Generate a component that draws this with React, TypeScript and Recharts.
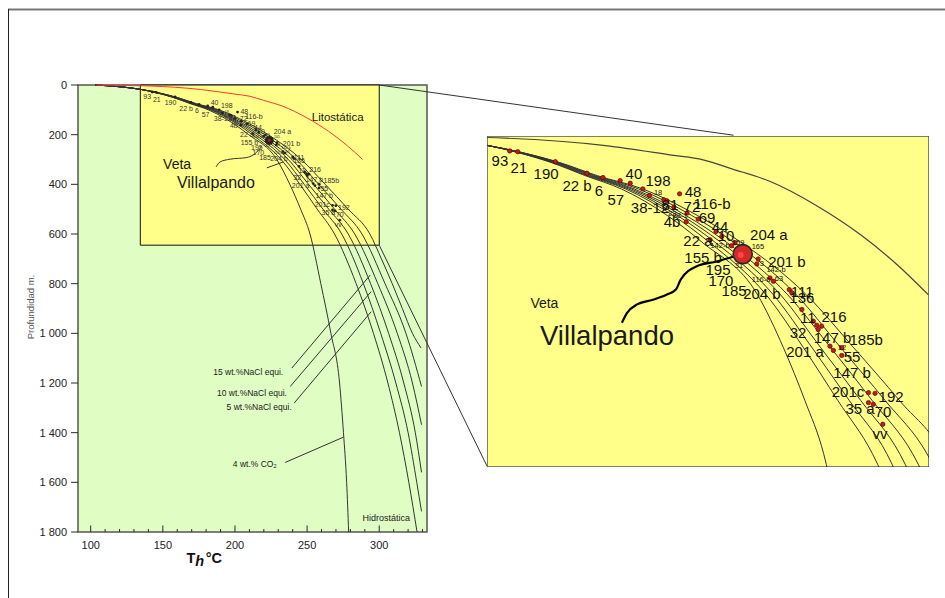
import { ComposedChart, Line, Scatter, XAxis, YAxis, ReferenceArea, ReferenceLine } from 'recharts'

const FONT = '"Liberation Sans", Arial, Helvetica, sans-serif'
const GREEN = '#e0fdc3'
const YELLOW = '#ffff8a'
const INK = '#2b2b2b'
const RED = '#ff3535'

// Curvas de ebullición: [profundidad m, T °C]
const BUNDLE_TOP = [[0, 103], [8, 122], [18, 135]]
const CO2_4 = [...BUNDLE_TOP, [30, 144.5], [50, 157], [75, 169], [100, 181.5], [150, 197.5], [200, 209.5], [300, 229], [400, 238], [500, 245.5], [600, 252], [800, 259.5], [1000, 266.5], [1200, 272.5], [1400, 275.2], [1600, 277.4], [1800, 278.8]]
const HIDRO = [...BUNDLE_TOP, [30, 144.8], [50, 157.5], [75, 169.7], [100, 183], [150, 199.5], [200, 212], [300, 232], [400, 245], [500, 257], [600, 269], [800, 284], [1000, 296], [1200, 306], [1400, 314], [1600, 320.5], [1800, 326.2]]
const NACL_5 = [...BUNDLE_TOP, [30, 145], [50, 158], [75, 170.4], [100, 184], [150, 201], [200, 214], [300, 234.5], [400, 248], [500, 261], [600, 274], [800, 289], [1000, 301], [1200, 311.5], [1400, 320], [1600, 326], [1717, 329.3]]
const NACL_10 = [...BUNDLE_TOP, [30, 145.3], [50, 158.5], [75, 171.1], [100, 185], [150, 202.5], [200, 216], [300, 237], [400, 251], [500, 265], [600, 278.5], [800, 294], [1000, 306.5], [1200, 317], [1400, 325], [1560, 329.3]]
const NACL_15 = [...BUNDLE_TOP, [30, 145.5], [50, 159], [75, 171.8], [100, 186], [150, 204], [200, 218], [300, 239.5], [400, 254.5], [500, 269], [600, 283], [800, 299], [1000, 312.5], [1200, 323], [1368, 329.3]]
const NACL_20 = [...BUNDLE_TOP, [30, 145.8], [50, 159.5], [75, 172.5], [100, 187.5], [150, 206], [200, 220.5], [300, 242.5], [400, 258], [500, 273.5], [600, 288], [800, 304], [1000, 318.5], [1214, 329.3]]
const NACL_25 = [...BUNDLE_TOP, [30, 146], [50, 160], [75, 173.2], [100, 189], [150, 208], [200, 223], [300, 246], [400, 262.5], [500, 278.5], [600, 293.5], [700, 301.5], [800, 309], [900, 316], [1000, 323], [1059, 329]]
const LITOSTATICA = [[0, 104], [4, 141], [18, 176], [36, 199], [45, 210], [62, 220], [85, 233], [133, 250], [187, 265], [245, 278], [300, 288.5]]

// Muestras (T, profundidad)
const SAMPLES = [
  [142.6, 28.2], [145.4, 29.6], [158.5, 48.4], [169.5, 70.2], [175.1, 78.5], [181.1, 84.2], [184.6, 89.1],
  [189, 99.8], [191.3, 112.4], [196.3, 120.5], [197.4, 122.4], [199.8, 134.3], [204.1, 162], [201.8, 109.2],
  [204.4, 145.6], [208.3, 156.9], [214.5, 180.2], [216.5, 189.6], [212.4, 195.9], [219.9, 207.2], [221.1, 201.5],
  [229.2, 232.2], [228.7, 241.6], [233.3, 268], [234.5, 274.4], [240, 290], [240.9, 296.2], [244.4, 327.7],
  [248.4, 349.7], [249.6, 357.3], [251.3, 359.1], [250.1, 365.3], [254.2, 396.8], [255.4, 404.9], [258.3, 399.8],
  [258.3, 414.3], [267.6, 484.6], [269.9, 485.9], [267.6, 503.4], [269.3, 506.6], [272.6, 544.3],
]
const MAIN_SAMPLE = [[223.8, 223]]

// Etiquetas de muestras: [texto, T, profundidad, secundaria]
const SAMPLE_TAGS: [string, number, number, boolean?][] = [
  ['93', 139.2, 47.1], ['21', 145.8, 60.3], ['190', 155.3, 71.6], ['22 b', 166.1, 94.2], ['6', 173.7, 103.6],
  ['57', 179.6, 120.5], ['40', 185.9, 71.6], ['198', 194.3, 84.7], ['18', 194.3, 107.3, true], ['38-12', 191.5, 135.6],
  ['81', 198.5, 130], ['22', 199.2, 146.9, true], ['4b', 199.2, 162], ['38-1', 202, 150.7, true], ['48', 206.5, 105.5],
  ['72', 206.1, 133.7], ['116-b', 213.1, 128], ['69', 211.4, 154.4], ['44', 215.9, 171.4], ['10', 218, 188.3],
  ['22 a', 208.2, 197.7], ['142-b', 215.9, 207.2, true], ['159', 222.2, 201.5, true], ['165', 229.1, 209, true],
  ['204 a', 232.9, 186.4], ['155 b', 210, 229.8], ['195', 215.2, 252.4], ['31', 222.5, 244.8, true], ['3', 230.5, 241, true],
  ['201 b', 239.2, 237.3], ['142-b', 235.4, 252.4, true], ['116-b', 230.2, 271.2, true], ['63', 236.4, 269.3, true],
  ['170', 216.2, 273.1], ['185', 220.8, 291.9], ['204 b', 230.5, 297.6], ['111', 244.5, 294], ['136', 244.4, 306],
  ['11', 246.5, 342.7], ['216', 255.6, 340.9], ['32', 243.1, 371], ['147 b', 255.1, 381], ['185b', 266.8, 384.2],
  ['12', 258.4, 399.2, true], ['201 a', 245.5, 406.8], ['55', 261.9, 416.2], ['147 b', 261.9, 446.3], ['201c', 260.5, 482],
  ['192', 275.5, 491.5], ['35 a', 264.7, 514.1], ['70', 272.7, 519.8], ['vv', 271.6, 563.1],
]

// Textos del gráfico principal: [texto, T, profundidad, tipo]
const MAIN_NOTES: [string, number, number, string][] = [
  ['Veta', 159.9, 319, 'veta'], ['Villalpando', 186.8, 391, 'villa'], ['Litostática', 271.2, 130, 'lito'],
  ['Hidrostática', 304.9, 1744, 'hidro'], ['15 wt.%NaCl equi.', 233.4, 1157, 'nacl'], ['10 wt.%NaCl equi.', 236, 1240, 'nacl'],
  ['5 wt.%NaCl equi.', 239.4, 1298, 'nacl'], ['4 wt.% CO', 228.8, 1525, 'co2'],
]
const INSET_NOTES: [string, number, number, string][] = [
  ['Veta', 154.7, 316.4, 'veta'], ['Villalpando', 176.5, 375.7, 'villa'],
]

const VETA_MAIN = [[186.9, 329.7], [189.7, 309.6], [196.6, 298.8], [208.2, 292], [214, 276], [218.6, 246.5]]
const VETA_INSET = [[181.7, 352.7], [183.5, 334], [187, 318], [192.8, 308.8], [197.4, 299.4], [200.5, 290], [202.2, 271], [207.8, 246], [214.7, 237], [220.5, 228]]

// Líneas guía [T1, d1, T2, d2]
const POINTERS = [
  [239.4, 1140, 293.8, 765], [238.3, 1214, 294.4, 832], [241, 1281, 294.4, 913], [234.8, 1520, 275.2, 1418],
  [222.1, 333.7, 233.6, 309.6],
]
const CONNECTORS = [[300, 0, 545.6, 202.3], [300, 645, 374.9, 1537]]
const ZOOM_BOX = { t1: 134.4, t2: 300, d1: 0, d2: 645 }

const X_MAIN: [number, number] = [91.2, 333.1]
const X_INSET: [number, number] = [134.7, 288.7]
const T_TICKS = [100, 110, 120, 130, 140, 150, 160, 170, 180, 190, 200, 210, 220, 230, 240, 250, 260, 270, 280, 290, 300, 310, 320, 330]
const INSET_TICKS = [150, 160, 170, 180, 190, 200, 210, 220, 230, 240, 250, 260, 270, 280]
const DEPTH_TICKS = [0, 200, 400, 600, 800, 1000, 1200, 1400, 1600, 1800]

const CURVES = [CO2_4, HIDRO, NACL_5, NACL_10, NACL_15, NACL_20, NACL_25].map((c) => c.map(([d, t]) => ({ t, d })))
const LITO_PTS = LITOSTATICA.map(([d, t]) => ({ t, d }))
const SAMPLE_PTS = SAMPLES.map(([t, d]) => ({ t, d }))
const MAIN_PT = MAIN_SAMPLE.map(([t, d]) => ({ t, d }))
const TAG_PTS = SAMPLE_TAGS.map(([text, t, d, minor]) => ({ text, t, d, minor: !!minor }))
const toNotes = (n: [string, number, number, string][]) => n.map(([text, t, d, kind]) => ({ text, t, d, kind }))
const veta = (v: number[][]) => v.map(([t, d]) => ({ t, d }))

const fmtDepth = (v: number) => (v >= 1000 ? `${Math.floor(v / 1000)} ${String(v % 1000).padStart(3, '0')}` : String(v))

const NOTE_SIZE: Record<string, number> = { veta: 14, villa: 16, lito: 11.5, hidro: 9, nacl: 8.5, co2: 8.5 }

function MainTick(props: any) {
  const { x, y, payload, top } = props
  const major = payload.value % 50 === 0
  const len = top ? (major ? 5 : 3) : major ? 6.5 : 3
  return (
    <g>
      <line x1={x} x2={x} y1={y} y2={top ? y + len : y - len} stroke={INK} strokeWidth={1} />
      {!top && major && (
        <text x={x} y={y + 17} textAnchor="middle" fontSize={11} fontFamily={FONT} fill="#222">
          {payload.value}
        </text>
      )}
    </g>
  )
}

function InsetTick(props: any) {
  const { x, y, payload } = props
  const major = payload.value % 50 === 0
  return <line x1={x} x2={x} y1={y} y2={y + (major ? 11 : 5.5)} stroke="#333" strokeWidth={1.2} />
}

const tagShape = (big: boolean) => (p: any) => {
  const minor = p.payload.minor
  const fs = big ? (minor ? 7.5 : 15) : minor ? 3.6 : 7
  return (
    <text x={p.cx} y={p.cy} dy="0.35em" textAnchor="middle" fontSize={fs} fontFamily={FONT} fill={big ? '#111' : '#333'}>
      {p.payload.text}
    </text>
  )
}

const noteShape = (big: boolean) => (p: any) => {
  const { kind, text } = p.payload
  const fs = big ? (kind === 'villa' ? 27.5 : 14) : NOTE_SIZE[kind]
  const anchor = kind === 'nacl' || kind === 'co2' ? 'end' : 'middle'
  return (
    <text x={p.cx} y={p.cy} dy="0.35em" textAnchor={anchor} fontSize={fs} fontFamily={FONT} fill="#1a1a1a">
      {text}
      {kind === 'co2' && <tspan fontSize={5.5} dy={1.5}>2</tspan>}
    </text>
  )
}

const dotShape = (big: boolean) => (p: any) =>
  big ? (
    <circle cx={p.cx} cy={p.cy} r={2.2} fill="#c81818" stroke="#4a0000" strokeWidth={0.6} />
  ) : (
    <circle cx={p.cx} cy={p.cy} r={1.4} fill="#222" />
  )

const blobShape = (big: boolean) => (p: any) =>
  big ? (
    <g>
      <circle cx={p.cx} cy={p.cy} r={9.5} fill="#d62828" stroke="#2a2a2a" strokeWidth={1.6} />
      <circle cx={p.cx - 2} cy={p.cy + 1} r={3} fill="#ff4444" />
    </g>
  ) : (
    <g>
      <circle cx={p.cx} cy={p.cy} r={4.5} fill="#222" />
      <circle cx={p.cx} cy={p.cy} r={1.3} fill="#e01010" />
    </g>
  )

function MainChart() {
  return (
    <ComposedChart width={945} height={598} margin={{ top: 85, right: 518, bottom: 36, left: 18 }}>
      <XAxis dataKey="t" type="number" domain={X_MAIN} ticks={T_TICKS} interval={0} height={30} tickSize={0} tickMargin={0} tickLine={false} axisLine={false} tick={(p: any) => <MainTick {...p} />} />
      <XAxis xAxisId="top" orientation="top" dataKey="t" type="number" domain={X_MAIN} ticks={T_TICKS} interval={0} height={0} tickSize={0} tickMargin={0} tickLine={false} axisLine={false} tick={(p: any) => <MainTick {...p} top />} />
      <YAxis dataKey="d" type="number" domain={[0, 1800]} reversed ticks={DEPTH_TICKS} interval={0} width={60} tickSize={7} tickMargin={4} axisLine={false} tickLine={{ stroke: INK }} tick={{ fontSize: 11, fill: '#222', fontFamily: FONT }} tickFormatter={fmtDepth} />
      <ReferenceArea x1={X_MAIN[0]} x2={X_MAIN[1]} y1={0} y2={1800} fill={GREEN} fillOpacity={1} stroke="#555" strokeWidth={1.5} ifOverflow="visible" />
      <ReferenceArea x1={ZOOM_BOX.t1} x2={ZOOM_BOX.t2} y1={ZOOM_BOX.d1} y2={ZOOM_BOX.d2} fill={YELLOW} fillOpacity={1} stroke="#111" strokeWidth={1} ifOverflow="visible" />
      {CONNECTORS.map(([t1, d1, t2, d2], i) => (
        <ReferenceLine key={`c${i}`} segment={[{ x: t1, y: d1 }, { x: t2, y: d2 }]} stroke="#333" strokeWidth={1} ifOverflow="visible" />
      ))}
      {POINTERS.map(([t1, d1, t2, d2], i) => (
        <ReferenceLine key={`p${i}`} segment={[{ x: t1, y: d1 }, { x: t2, y: d2 }]} stroke="#333" strokeWidth={1} ifOverflow="visible" />
      ))}
      {CURVES.map((c, i) => (
        <Line key={`m${i}`} data={c} dataKey="d" type="monotone" stroke="#333" strokeWidth={1} dot={false} activeDot={false} isAnimationActive={false} />
      ))}
      <Line data={LITO_PTS} dataKey="d" type="monotone" stroke={RED} strokeWidth={1} dot={false} activeDot={false} isAnimationActive={false} />
      <Line data={veta(VETA_MAIN)} dataKey="d" type="monotone" stroke="#333" strokeWidth={1} dot={false} activeDot={false} isAnimationActive={false} />
      <Scatter data={SAMPLE_PTS} dataKey="d" shape={dotShape(false)} isAnimationActive={false} />
      <Scatter data={MAIN_PT} dataKey="d" shape={blobShape(false)} isAnimationActive={false} />
      <Scatter data={TAG_PTS} dataKey="d" shape={tagShape(false)} isAnimationActive={false} />
      <Scatter data={toNotes(MAIN_NOTES)} dataKey="d" shape={noteShape(false)} isAnimationActive={false} />
    </ComposedChart>
  )
}

function InsetChart() {
  return (
    <ComposedChart width={442} height={331} margin={{ top: 0, right: 0, bottom: 0, left: 0 }}>
      <XAxis orientation="top" dataKey="t" type="number" domain={X_INSET} allowDataOverflow ticks={INSET_TICKS} interval={0} height={0} tickSize={0} tickMargin={0} tickLine={false} axisLine={false} tick={(p: any) => <InsetTick {...p} />} />
      <YAxis dataKey="d" type="number" domain={[0, 625]} reversed allowDataOverflow hide width={0} />
      <ReferenceArea x1={X_INSET[0]} x2={X_INSET[1]} y1={0} y2={625} fill={YELLOW} fillOpacity={1} stroke="#555" strokeWidth={1.5} ifOverflow="visible" />
      {CURVES.map((c, i) => (
        <Line key={`i${i}`} data={c} dataKey="d" type="monotone" stroke="#333" strokeWidth={1} dot={false} activeDot={false} isAnimationActive={false} />
      ))}
      <Line data={LITO_PTS} dataKey="d" type="monotone" stroke="#444" strokeWidth={1.2} dot={false} activeDot={false} isAnimationActive={false} />
      <Line data={veta(VETA_INSET)} dataKey="d" type="monotone" stroke="#000" strokeWidth={2.2} dot={false} activeDot={false} isAnimationActive={false} />
      <Scatter data={SAMPLE_PTS} dataKey="d" shape={dotShape(true)} isAnimationActive={false} />
      <Scatter data={MAIN_PT} dataKey="d" shape={blobShape(true)} isAnimationActive={false} />
      <Scatter data={TAG_PTS} dataKey="d" shape={tagShape(true)} isAnimationActive={false} />
      <Scatter data={toNotes(INSET_NOTES)} dataKey="d" shape={noteShape(true)} isAnimationActive={false} />
    </ComposedChart>
  )
}

export default function App() {
  return (
    <div style={{ position: 'absolute', left: 0, top: 0, width: 945, height: 598, background: '#fff', fontFamily: FONT }}>
      <div style={{ position: 'absolute', left: 0, top: 0 }}>
        <MainChart />
      </div>
      <div style={{ position: 'absolute', left: 487, top: 136 }}>
        <InsetChart />
      </div>
      <svg width={945} height={598} style={{ position: 'absolute', left: 0, top: 0, pointerEvents: 'none' }}>
        <line x1={8} x2={945} y1={9.5} y2={9.5} stroke="#777" strokeWidth={2} />
        <line x1={8.5} x2={8.5} y1={9} y2={598} stroke="#222" strokeWidth={1} />
        <text transform="translate(31,307) rotate(-90)" textAnchor="middle" dy="0.35em" fontSize={9.5} fill="#555" fontFamily={FONT}>
          Profundidad m.
        </text>
        <text x={186.5} y={562.7} fontSize={14.5} fontWeight="bold" fontFamily={FONT} fill="#111">
          T<tspan fontStyle="italic" dy={3}>h</tspan>
          <tspan dy={-3} dx={1.5}>°C</tspan>
        </text>
      </svg>
    </div>
  )
}
